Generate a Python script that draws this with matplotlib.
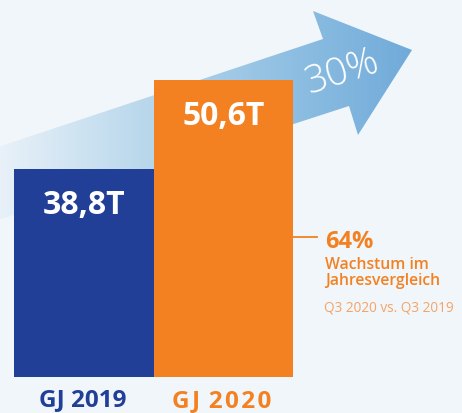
import matplotlib
matplotlib.use("Agg")
import matplotlib.pyplot as plt
import numpy as np
from matplotlib.colors import LinearSegmentedColormap
from matplotlib.patches import Polygon

# data
categories = ["GJ 2019", "G\u200aJ \u200a2\u200a0\u200a2\u200a0"]
values = [38.8, 50.6]
value_labels = ["38,8T", "50,6T"]
growth_arrow_label = "30%"
yoy_value = "64%"
yoy_lines = ["Wachstum im", "Jahresvergleich"]
yoy_note = "Q3 2020 vs. Q3 2019"

BG = "#f1f6fb"
BLUE = "#223f98"
ORANGE = "#f38121"
LIGHT_ORANGE = "#f5a466"
bar_colors = [BLUE, ORANGE]

plt.rcParams["font.family"] = ["Open Sans", "DejaVu Sans"]

W, H = 462, 414
fig = plt.figure(figsize=(W / 100, H / 100), dpi=100, facecolor=BG)

# background layer in pixel coords (y down)
bg = fig.add_axes([0, 0, 1, 1])
bg.set_xlim(0, W)
bg.set_ylim(H, 0)
bg.axis("off")
bg.set_facecolor(BG)

arrow_pts = [(-5, 149), (323, 40), (313, 12), (412, 51), (358, 136), (349, 107), (-5, 222)]
arrow = Polygon(arrow_pts, closed=True, facecolor="none", edgecolor="none")
bg.add_patch(arrow)
cmap = LinearSegmentedColormap.from_list(
    "arr", [(0, "#eaf2f9"), (0.35, "#bad8ec"), (0.7, "#8fbfe2"), (1, "#70aad9")])
grad = np.linspace(0, 1, 256).reshape(1, -1)
im = bg.imshow(grad, cmap=cmap, extent=[-5, 415, H, 0], aspect="auto", zorder=1)
im.set_clip_path(arrow)
bg.set_xlim(0, W)
bg.set_ylim(H, 0)

bg.text(342, 73, growth_arrow_label, rotation=18, ha="center", va="center",
        color="white", fontsize=28, fontweight="light", zorder=3)

# orange connector + text on the right
bg.plot([293, 317], [238, 238], color=ORANGE, lw=1.3, zorder=3)
bg.text(325, 248, yoy_value, color=ORANGE, fontsize=17, fontweight="bold", va="baseline")
bg.text(325, 269, yoy_lines[0], color=ORANGE, fontsize=11.3, fontweight="semibold", va="baseline")
bg.text(325, 285, yoy_lines[1], color=ORANGE, fontsize=11.3, fontweight="semibold", va="baseline")
bg.text(324, 312, yoy_note, color=LIGHT_ORANGE, fontsize=9.8, va="baseline")

# bar axes
ax_left, ax_right, ax_bottom = 14, 293, 378
ax = fig.add_axes([ax_left / W, (H - ax_bottom) / H, (ax_right - ax_left) / W, ax_bottom / H])
ax.patch.set_alpha(0)
x = np.arange(len(categories))
ax.bar(x, values, width=1.0, color=bar_colors, zorder=2)
ax.set_xlim(-0.5, 1.5)
ax.set_ylim(11.22, 61.34)
ax.axis("off")

for i, (v, lab) in enumerate(zip(values, value_labels)):
    ax.annotate(lab, xy=(i, v), xytext=(0, -44 * 0.72), textcoords="offset points",
                ha="center", va="baseline", color="white", fontsize=23, fontweight="bold")

cat_offsets = [-28, -29]
for i, (c, col) in enumerate(zip(categories, bar_colors)):
    ax.annotate(c, xy=(i, 0), xycoords=("data", "axes fraction"),
                xytext=(-1, cat_offsets[i] * 0.72), textcoords="offset points",
                ha="center", va="baseline", color=col, fontsize=17.5, fontweight="bold",
                annotation_clip=False)

fig.savefig("out.png", dpi=100, facecolor=BG)
